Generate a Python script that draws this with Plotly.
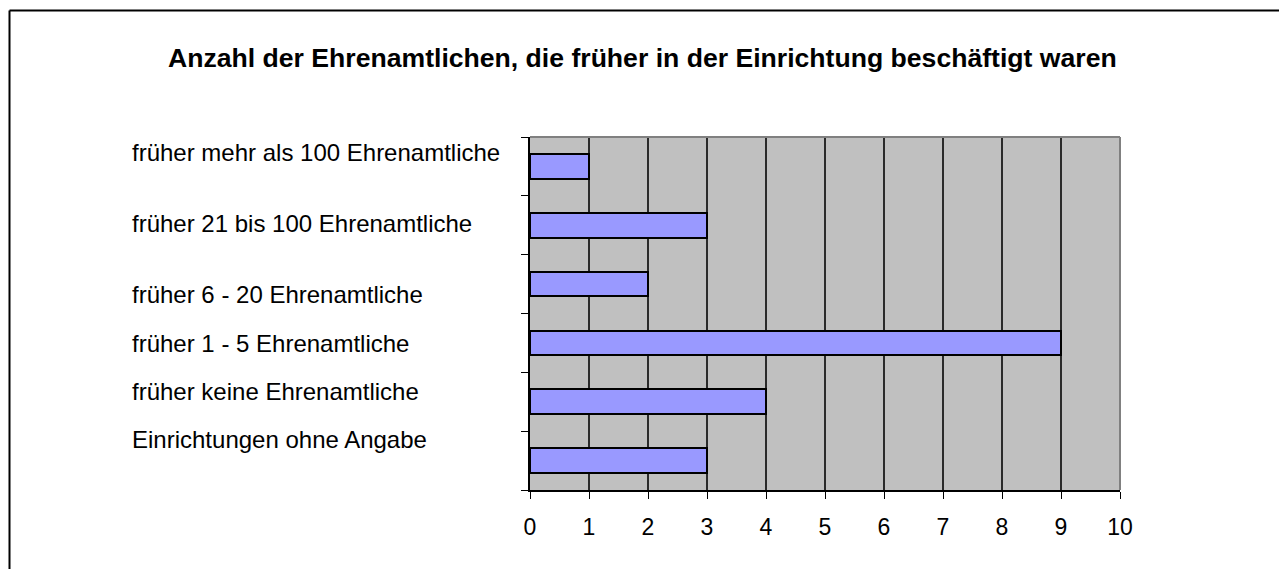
import plotly.graph_objects as go

# ---- data ----
categories = [
    "früher mehr als 100 Ehrenamtliche",
    "früher 21 bis 100 Ehrenamtliche",
    "früher 6 - 20 Ehrenamtliche",
    "früher 1 - 5 Ehrenamtliche",
    "früher keine Ehrenamtliche",
    "Einrichtungen ohne Angabe",
]
values = [1, 3, 2, 9, 4, 3]
x_ticks = list(range(0, 11))
title_text = "Anzahl der Ehrenamtlichen, die früher in der Einrichtung beschäftigt waren"

# ---- layout geometry (pixels, page coordinates; page has 8px body margin) ----
OFF = 8
W, H = 1287 - OFF, 569 - OFF
PL, PR, PT, PB = 530 - OFF, 1120 - OFF, 137 - OFF, 490 - OFF  # plot area edges
label_y_px = [y - OFF for y in [152, 223, 294, 343, 391, 439]]
label_x_px = 130 - OFF

n = len(categories)
ypos = [n - i - 0.5 for i in range(n)]  # top category first


def px_to_paper_x(px):
    return (px - PL) / (PR - PL)


def px_to_paper_y(py):
    return (PB - py) / (PB - PT)


font = "Liberation Sans, Arial, sans-serif"

fig = go.Figure()
fig.add_trace(go.Bar(
    x=values,
    y=ypos,
    orientation="h",
    width=0.42,
    marker=dict(color="#9999FF", line=dict(color="black", width=2)),
    hoverinfo="x",
))

annotations = [
    dict(
        text=title_text, xref="paper", yref="paper",
        x=px_to_paper_x(642 - OFF), y=px_to_paper_y(58 - OFF),
        xanchor="center", yanchor="middle", showarrow=False,
        font=dict(family=font, size=26.6, color="black", weight="bold"),
    )
]
for cat, py in zip(categories, label_y_px):
    annotations.append(dict(
        text=cat, xref="paper", yref="paper",
        x=px_to_paper_x(label_x_px), y=px_to_paper_y(py),
        xanchor="left", yanchor="middle", showarrow=False,
        font=dict(family=font, size=24, color="black"),
    ))

shapes = [
    # plot area top and right borders (gray)
    dict(type="line", xref="paper", yref="paper", x0=0, x1=1, y0=1, y1=1,
         line=dict(color="#808080", width=2)),
    dict(type="line", xref="paper", yref="paper", x0=1, x1=1, y0=0, y1=1,
         line=dict(color="#808080", width=2)),
    # outer chart frame (top and left visible)
    dict(type="line", xref="paper", yref="paper",
         x0=px_to_paper_x(9.5 - OFF), x1=px_to_paper_x(1300),
         y0=px_to_paper_y(10.5 - OFF), y1=px_to_paper_y(10.5 - OFF),
         line=dict(color="black", width=2)),
    dict(type="line", xref="paper", yref="paper",
         x0=px_to_paper_x(9.5 - OFF), x1=px_to_paper_x(9.5 - OFF),
         y0=px_to_paper_y(10.5 - OFF), y1=px_to_paper_y(600),
         line=dict(color="black", width=2)),
]

fig.update_layout(
    width=W, height=H,
    margin=dict(l=PL, r=W - PR, t=PT, b=H - PB, autoexpand=False),
    paper_bgcolor="white",
    plot_bgcolor="#C0C0C0",
    showlegend=False,
    bargap=0,
    annotations=annotations,
    shapes=shapes,
    font=dict(family=font, size=23, color="black"),
)
fig.update_xaxes(
    range=[0, 10], tickvals=x_ticks, ticktext=[str(t) for t in x_ticks],
    ticks="outside", ticklen=7, tickcolor="black", tickwidth=1,
    showline=True, linecolor="black", linewidth=1.5,
    showgrid=True, gridcolor="#2a2a2a", gridwidth=1.5,
    zeroline=False, ticklabelstandoff=9,
    tickfont=dict(family=font, size=23, color="black"),
)
fig.update_yaxes(
    range=[0, n], tickvals=list(range(0, n + 1)),
    ticks="outside", ticklen=7, tickcolor="black", tickwidth=1,
    showticklabels=False,
    showline=True, linecolor="black", linewidth=1.5,
    showgrid=False, zeroline=False,
)

fig.write_html("out.html")
